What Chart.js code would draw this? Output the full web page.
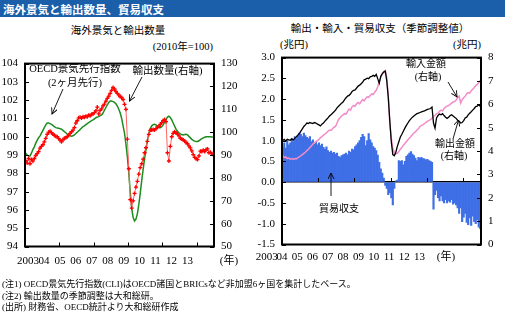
<!DOCTYPE html>
<html lang="ja">
<head>
<meta charset="utf-8">
<title>海外景気と輸出数量、貿易収支</title>
<script src="https://cdn.jsdelivr.net/npm/chart.js@4.4.1/dist/chart.umd.min.js"></script>
<style>
  html, body { margin: 0; padding: 0; background: #fff; }
  body { position: relative; width: 505px; height: 321px; overflow: hidden;
         font-family: "Liberation Serif", "Noto Sans CJK JP", serif; color: #000; }
  #banner { position: absolute; left: 0; top: 0; width: 505px; height: 17px; background: #1b5ea9; }
  #banner span { position: absolute; left: 3px; top: 8.5px; transform: translateY(-50%);
                 color: #fff; font: bold 11.5px "Noto Sans CJK JP", sans-serif; white-space: nowrap; }
  .t { position: absolute; white-space: nowrap; line-height: 1; font-size: 10.5px; transform: translate(-50%, -50%); }
  .t.r { transform: translate(-100%, -50%); }
  .t.l { transform: translate(0, -50%); }
  .t.s { font-size: 10px; }
  .note { position: absolute; left: 2px; font-size: 9px; line-height: 1; white-space: nowrap; transform: translateY(-50%); }
  canvas { position: absolute; }
  svg { position: absolute; left: 0; top: 0; }
</style>
</head>
<body>
<div id="banner"><span>海外景気と輸出数量、貿易収支</span></div>

<div class="t" style="left:118px;top:31px">海外景気と輸出数量</div>
<div class="t r" style="left:213px;top:47px">(2010年=100)</div>
<div class="t" style="left:380px;top:29px">輸出・輸入・貿易収支（季節調整値）</div>
<div class="t l" style="left:280px;top:44.5px">(兆円)</div>
<div class="t r" style="left:481px;top:44.5px">(兆円)</div>

<canvas id="left" width="250" height="226" style="left:0;top:50px"></canvas>
<canvas id="right" width="255" height="230" style="left:250px;top:44px"></canvas>

<div class="t" style="left:75px;top:69px">OECD景気先行指数</div>
<div class="t" style="left:75px;top:82.5px">(2ヶ月先行)</div>
<div class="t" style="left:167.5px;top:71px">輸出数量(右軸)</div>
<div class="t s" style="left:426px;top:64px">輸入金額</div>
<div class="t s" style="left:428px;top:77px">(右軸)</div>
<div class="t s" style="left:455px;top:143.5px">輸出金額</div>
<div class="t s" style="left:454px;top:155.5px">(右軸)</div>
<div class="t s" style="left:339px;top:208.5px">貿易収支</div>

<svg width="505" height="321">
  <defs>
    <marker id="ah" markerWidth="7" markerHeight="7" refX="6" refY="3.5" orient="auto" markerUnits="userSpaceOnUse">
      <path d="M0,0.5 L6,3.5 L0,6.5" fill="none" stroke="#000" stroke-width="0.9"/>
    </marker>
  </defs>
  <g stroke="#000" stroke-width="0.9" fill="none" marker-end="url(#ah)">
    <line x1="63" y1="89" x2="52" y2="114"/>
    <line x1="142" y1="77" x2="129.5" y2="101"/>
    <line x1="448" y1="82" x2="457" y2="97"/>
    <line x1="453" y1="139" x2="458.5" y2="120"/>
    <line x1="331" y1="196" x2="331" y2="173"/>
  </g>
</svg>

<div class="note" style="top:284px">(注1) OECD景気先行指数(CLI)はOECD諸国とBRICsなど非加盟6ヶ国を集計したベース。</div>
<div class="note" style="top:295.5px">(注2) 輸出数量の季節調整は大和総研。</div>
<div class="note" style="top:306.5px">(出所) 財務省、OECD統計より大和総研作成</div>

<script>
const years = ['2003', '04', '05', '06', '07', '08', '09', '10', '11', '12', '13'];
const yearUnit = '(年)';

// left: monthly from 2003/01
const oecdCli = [
  99.1, 99.0, 98.95, 98.95, 99.1, 99.3, 99.45, 99.65, 99.8, 99.95,
  100.05, 100.2, 100.35, 100.5, 100.65, 100.75, 100.75, 100.72, 100.68, 100.62,
  100.55, 100.5, 100.48, 100.46, 100.44, 100.42, 100.35, 100.28, 100.22, 100.15,
  100.08, 100.05, 100.03, 100.05, 100.1, 100.18, 100.25, 100.32, 100.4, 100.48,
  100.55, 100.6, 100.66, 100.72, 100.78, 100.83, 100.88, 100.92, 100.98, 101.04,
  101.08, 101.1, 101.15, 101.2, 101.3, 101.45, 101.6, 101.75, 101.88, 101.95,
  101.95, 101.92, 101.88, 101.8, 101.68, 101.5, 101.3, 101.0, 100.6, 100.2,
  99.6, 98.9, 98.0, 97.0, 96.1, 95.6, 95.4, 95.5, 95.8, 96.3,
  96.9, 97.6, 98.2, 98.8, 99.3, 99.8, 100.2, 100.45, 100.6, 100.66,
  100.68, 100.65, 100.58, 100.52, 100.5, 100.55, 100.65, 100.8, 100.95, 101.08,
  101.12, 101.05, 100.92, 100.75, 100.58, 100.42, 100.3, 100.22, 100.16, 100.12,
  100.1, 100.12, 100.14, 100.1, 100.02, 99.94, 99.86, 99.8, 99.76, 99.74,
  99.74, 99.78, 99.84, 99.9, 99.94, 99.97, 100.0, 100.0, 100.0, 100.0,
  99.99, 99.98
];
const exportVolume = [
  87.5, 86.5, 88.5, 86.2, 88.0, 87.3, 88.5, 89.8, 90.6, 91.5,
  93.0, 93.8, 94.5, 95.8, 97.3, 99.0, 100.0, 100.4, 99.8, 99.2,
  98.6, 98.2, 98.0, 97.2, 96.5, 95.8, 96.6, 97.4, 97.6, 98.0,
  98.7, 99.5, 100.2, 100.9, 102.0, 104.0, 105.0, 106.3, 106.5, 106.2,
  106.8, 106.5, 107.0, 106.8, 107.4, 107.2, 107.9, 108.0, 108.6, 109.3,
  111.0, 108.0, 109.5, 110.2, 111.5, 112.3, 113.6, 114.8, 115.8, 117.0,
  118.3, 119.6, 118.9, 117.8, 117.0, 116.3, 115.5, 115.2, 114.3, 112.2,
  110.0, 97.0, 84.0, 70.5, 66.8, 70.0, 73.2, 76.0, 78.5, 81.7,
  84.5, 86.2, 88.2, 91.0, 93.2, 96.0, 99.0, 100.8, 101.0, 101.2,
  101.0, 101.6, 102.2, 102.5, 103.4, 104.2, 105.1, 105.5, 104.6, 91.0,
  87.4, 93.8, 98.0, 99.5, 100.2, 99.6, 99.2, 98.4, 97.3, 97.0,
  96.6, 96.2, 95.4, 95.0, 94.0, 93.1, 91.8, 90.2, 89.0, 88.4,
  88.0, 89.6, 91.7, 91.5, 92.1, 91.5, 92.4, 92.7, 91.0, 91.2,
  90.6, 90.2
];

// right: 兆円, monthly from 2003/01
const tradeBalance = [
  0.85, 0.95, 0.82, 1.0, 0.9, 0.95, 1.05, 0.98, 1.1, 1.05,
  1.12, 1.18, 1.15, 1.1, 1.18, 1.12, 1.08, 1.05, 1.1, 0.98,
  1.02, 0.92, 0.96, 0.9, 0.95, 0.88, 0.92, 0.84, 0.8, 0.85,
  0.76, 0.72, 0.75, 0.7, 0.72, 0.68, 0.7, 0.62, 0.6, 0.64,
  0.66, 0.68, 0.7, 0.66, 0.75, 0.72, 0.8, 0.78, 0.86, 0.9,
  0.95, 1.0, 1.08, 1.15, 1.1, 0.88, 1.0, 1.17, 1.02, 0.95,
  0.86, 0.82, 0.76, 0.65, 0.48, 0.32, 0.22, 0.1, -0.08, -0.15,
  -0.3, -0.25, -0.38, -0.55, -0.15, 0.03, 0.05, 0.52, 0.5, 0.52,
  0.42, 0.5, 0.62, 0.66, 0.7, 0.74, 0.68, 0.64, 0.58, 0.52,
  0.6, 0.58, 0.6, 0.57, 0.56, 0.54, 0.55, 0.52, 0.5, 0.48,
  -0.65, -0.3, -0.2, -0.37, -0.45, -0.33, -0.45, -0.5, -0.42, -0.5,
  -0.45, -0.48, -0.42, -0.53, -0.5, -0.55, -0.62, -0.75, -0.62, -0.95,
  -0.84, -0.75, -0.97, -1.02, -0.86, -1.04, -0.82, -0.95, -1.0, -0.9,
  -1.08, -1.12
];
const exportValue = [
  4.45, 4.5, 4.42, 4.5, 4.48, 4.46, 4.52, 4.47, 4.55, 4.6,
  4.68, 4.75, 4.85, 4.95, 5.05, 5.12, 5.2, 5.18, 5.22, 5.2,
  5.18, 5.22, 5.2, 5.15, 5.12, 5.08, 5.15, 5.2, 5.28, 5.35,
  5.42, 5.5, 5.55, 5.62, 5.68, 5.75, 5.85, 5.92, 5.98, 6.05,
  6.1, 6.2, 6.28, 6.35, 6.38, 6.45, 6.55, 6.6, 6.62, 6.7,
  6.78, 6.82, 6.88, 6.95, 7.05, 7.08, 7.12, 7.1, 7.18, 7.2,
  7.24, 7.2, 7.28, 7.1, 6.9, 7.2, 7.3, 7.38, 7.42, 7.0,
  6.3, 5.3, 4.4, 3.85, 3.8, 3.95, 4.2, 4.4, 4.6, 4.72,
  4.85, 4.98, 5.1, 5.2, 5.3, 5.38, 5.45, 5.5, 5.55, 5.6,
  5.62, 5.65, 5.68, 5.7, 5.72, 5.75, 5.78, 5.8, 5.82, 5.88,
  5.2, 4.98, 5.42, 5.52, 5.58, 5.55, 5.6, 5.52, 5.45, 5.4,
  5.45, 5.52, 5.55, 5.5, 5.45, 5.4, 5.32, 5.28, 5.2, 5.22,
  5.3, 5.42, 5.45, 5.55, 5.62, 5.68, 5.75, 5.82, 5.9, 5.92,
  5.98, 5.92
];
const importValue = [
  3.8, 3.72, 3.75, 3.68, 3.7, 3.65, 3.68, 3.64, 3.68, 3.66,
  3.72, 3.75, 3.8, 3.85, 3.9, 3.95, 4.02, 4.08, 4.15, 4.22,
  4.3, 4.35, 4.4, 4.45, 4.5, 4.58, 4.62, 4.68, 4.72, 4.78,
  4.85, 4.9, 4.88, 4.95, 5.02, 5.05, 5.2, 5.35, 5.42, 5.5,
  5.55, 5.6, 5.58, 5.7, 5.8, 5.75, 5.9, 5.95, 5.92, 6.02,
  6.08, 6.02, 6.12, 6.2, 6.15, 6.25, 6.32, 6.3, 6.38, 6.45,
  6.42, 6.52, 6.6, 6.75, 6.98, 7.15, 7.32, 7.4, 7.45, 7.15,
  6.3, 5.2, 4.55, 4.1, 3.95, 3.88, 3.9, 3.98, 4.08, 4.15,
  4.25, 4.32, 4.4, 4.48, 4.55, 4.62, 4.7, 4.78, 4.82, 4.9,
  4.95, 5.05, 5.1, 5.12, 5.18, 5.22, 5.28, 5.3, 5.35, 5.4,
  5.48, 5.52, 5.6, 5.62, 5.7, 5.75, 5.72, 5.82, 5.88, 5.92,
  5.95, 6.0, 6.05, 6.1, 6.12, 6.18, 6.3, 6.35, 6.05, 6.2,
  6.28, 6.35, 6.45, 6.5, 6.48, 6.58, 6.65, 6.72, 6.8, 6.85,
  6.92, 7.02
];

const serif = "'Liberation Serif', 'Noto Sans CJK JP', serif";
Chart.defaults.font.family = serif;
Chart.defaults.color = '#000';
const tickFont = { family: serif, size: 11 };

const monthly = (arr) => arr.map((v, i) => ({ x: i + 0.5, y: v }));

// frame + inward tick marks, like the original Excel chart
const innerTicks = {
  id: 'innerTicks',
  afterDatasetsDraw(chart, args, opts) {
    const { ctx, chartArea: a, scales } = chart;
    const len = 4;
    ctx.save();
    ctx.strokeStyle = '#000';
    ctx.lineWidth = 1;
    ctx.beginPath();
    const xs = scales.x;
    const baseY = opts.zeroLine ? Math.round(scales.y.getPixelForValue(0)) : a.bottom;
    xs.ticks.forEach((t) => {
      if (t.value <= xs.min || t.value >= xs.max) return;
      const px = Math.round(xs.getPixelForValue(t.value)) + 0.5;
      ctx.moveTo(px, baseY);
      ctx.lineTo(px, baseY - len);
    });
    scales.y.ticks.forEach((t) => {
      const py = Math.round(scales.y.getPixelForValue(t.value)) + 0.5;
      ctx.moveTo(a.left, py);
      ctx.lineTo(a.left + len, py);
    });
    scales.y2.ticks.forEach((t) => {
      const py = Math.round(scales.y2.getPixelForValue(t.value)) + 0.5;
      ctx.moveTo(a.right, py);
      ctx.lineTo(a.right - len, py);
    });
    ctx.stroke();
    ctx.lineWidth = 2;
    ctx.strokeRect(a.left, a.top, a.right - a.left, a.bottom - a.top);
    ctx.restore();
  },
};

// year labels sit on their own axis: p0 = page x of "2003", step = px per label
function yearAxis(areaLeft, areaRight, p0, step, unitX, padding) {
  return {
    type: 'linear',
    position: 'bottom',
    bounds: 'data',
    offset: false,
    min: (areaLeft - p0) / step,
    max: (areaRight - p0) / step,
    grid: { display: false, drawTicks: false },
    border: { display: false },
    afterBuildTicks: (s) => {
      s.ticks = years.map((_, i) => ({ value: i })).concat([{ value: (unitX - p0) / step }]);
    },
    ticks: {
      autoSkip: false,
      maxRotation: 0,
      minRotation: 0,
      padding,
      font: tickFont,
      color: '#000',
      callback: (v, i) => (i < years.length ? years[i] : yearUnit),
    },
    afterFit: (s) => {
      s.height = 29.5;
      s.paddingLeft = 0;
      s.paddingRight = 0;
    },
  };
}

function sideAxis(position, min, max, step, width, fmt, extra) {
  return Object.assign({
    position,
    min,
    max,
    ticks: { stepSize: step, padding: 7, font: tickFont, color: '#000', callback: fmt },
    grid: { display: false, drawTicks: false },
    border: { display: false },
    afterFit: (s) => { s.width = width; },
  }, extra || {});
}

const monthAxis = {
  type: 'linear', display: false, offset: false, min: 0, max: 132,
  ticks: { stepSize: 12 }, grid: { offset: false },
};

new Chart(document.getElementById('left'), {
  type: 'line',
  data: {
    datasets: [
      {
        label: '輸出数量(右軸)',
        data: monthly(exportVolume),
        yAxisID: 'y2',
        borderColor: '#ff6464',
        borderWidth: 1,
        pointStyle: 'cross',
        pointRadius: 2,
        pointBorderWidth: 1.3,
        pointBorderColor: '#ff0000',
        pointBackgroundColor: '#ff0000',
        order: 1,
      },
      {
        label: 'OECD景気先行指数',
        data: monthly(oecdCli),
        yAxisID: 'y',
        borderColor: '#1e8c1e',
        borderWidth: 1.5,
        pointRadius: 0,
        order: 2,
      },
    ],
  },
  options: {
    responsive: false,
    animation: false,
    devicePixelRatio: 1,
    events: [],
    layout: { padding: { top: 8, left: 0, right: 0, bottom: 0 } },
    plugins: { legend: { display: false }, tooltip: { enabled: false }, innerTicks: { zeroLine: false } },
    scales: {
      x: monthAxis,
      xl: yearAxis(25, 214, 28, 15.94, 229, 7.9),
      y: sideAxis('left', 94, 104, 1, 25, (v) => v),
      y2: sideAxis('right', 50, 130, 10, 36, (v) => v),
    },
  },
  plugins: [innerTicks],
});

new Chart(document.getElementById('right'), {
  type: 'bar',
  data: {
    datasets: [
      {
        type: 'line',
        label: '輸出金額(右軸)',
        data: monthly(exportValue),
        yAxisID: 'y2',
        borderColor: '#000',
        borderWidth: 1.3,
        pointRadius: 0,
        order: 1,
      },
      {
        type: 'line',
        label: '輸入金額(右軸)',
        data: monthly(importValue),
        yAxisID: 'y2',
        borderColor: '#f28cc8',
        borderWidth: 1.5,
        pointRadius: 0,
        order: 2,
      },
      {
        type: 'bar',
        label: '貿易収支',
        data: monthly(tradeBalance),
        yAxisID: 'y',
        backgroundColor: '#3f6fe6',
        borderWidth: 0,
        barPercentage: 1,
        categoryPercentage: 1,
        order: 3,
      },
    ],
  },
  options: {
    responsive: false,
    animation: false,
    devicePixelRatio: 1,
    events: [],
    layout: { padding: { top: 8.5, left: 0, right: 0, bottom: 0 } },
    plugins: { legend: { display: false }, tooltip: { enabled: false }, innerTicks: { zeroLine: true } },
    scales: {
      x: monthAxis,
      xl: yearAxis(282, 481, 266.7, 15.28, 446, 6.4),
      y: sideAxis('left', -1.5, 3.0, 0.5, 32, (v) => v.toFixed(1), {
        z: 1,
        grid: {
          display: true,
          drawTicks: false,
          color: (c) => (c.tick && c.tick.value === 0 ? '#000' : 'rgba(0,0,0,0)'),
          lineWidth: (c) => (c.tick && c.tick.value === 0 ? 1.5 : 0),
        },
      }),
      y2: sideAxis('right', 0, 8, 1, 24, (v) => v),
    },
  },
  plugins: [innerTicks],
});
</script>
</body>
</html>
